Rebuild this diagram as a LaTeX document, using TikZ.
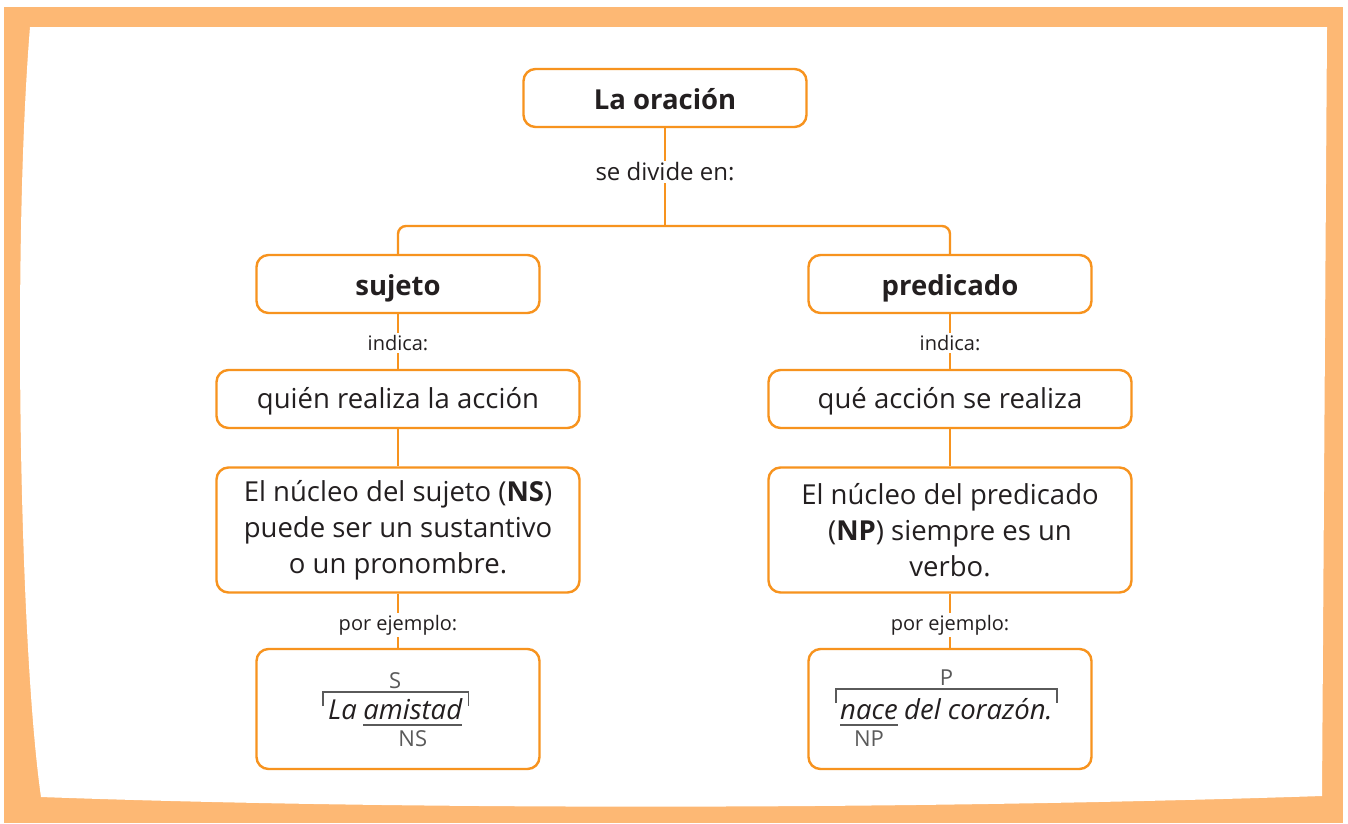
\documentclass[tikz,border=0pt]{standalone}
\usepackage{fontspec}
\setmainfont{Open Sans}
\usetikzlibrary{positioning,calc}

\definecolor{marco}{HTML}{FDB874}
\definecolor{naranja}{HTML}{F7931E}
\definecolor{texto}{HTML}{231F20}
\definecolor{gris}{HTML}{5A5A5A}

\begin{document}
\begin{tikzpicture}[x=1pt,y=-1pt,
  caja/.style={draw=naranja, line width=2.4pt, rounded corners=12pt, fill=white, text=texto,
    inner sep=0pt, align=center, minimum height=58pt, font=\fontsize{27.5}{36}\selectfont},
  angosta/.style={caja, minimum width=283pt},
  ancha/.style={caja, minimum width=363pt},
  linea/.style={text height=18pt, text depth=0pt},
  titulo/.style={angosta, text height=22pt, text depth=0pt, font=\fontsize{27.5}{36}\selectfont\bfseries},
  conector/.style={draw=naranja, line width=2.4pt},
  etiqueta/.style={fill=white, text=texto, inner sep=2pt, font=\fontsize{20}{24}\selectfont},
  ejemplo/.style={inner sep=0pt, text=texto, font=\fontsize{27.5}{36}\selectfont\itshape},
  sigla/.style={inner sep=0pt, text=gris, font=\fontsize{22}{26}\selectfont},
  raya/.style={draw=gris, line width=1.6pt}]
\useasboundingbox (0,0) rectangle (1348,823);
% marco de fondo
\fill[white] (0,0) rectangle (1348,823);
\fill[marco] (4,7) rectangle (1343,823);
\fill[white] (30,27) -- (1327,27) -- (1322,796) .. controls (900,810) and (400,810) .. (41,797)
  .. controls (20,650) and (12,250) .. (30,27) -- cycle;

% cajas
\node[titulo] (oracion) at (665,98) {La oración};
\node[titulo] (sujeto) at (398,284) {sujeto};
\node[titulo] (predicado) at (950,284) {predicado};
\node[ancha, linea] (quien) at (398,399) {quién realiza la acción};
\node[ancha, linea] (que) at (950,399) {qué acción se realiza};
\node[ancha, minimum height=125pt] (nucleoS) at (398,530) {El núcleo del sujeto (\textbf{NS})\\puede ser un sustantivo\\o un pronombre.};
\node[ancha, minimum height=125pt] (nucleoP) at (950,530) {El núcleo del predicado\\(\textbf{NP}) siempre es un\\verbo.};
\node[angosta, minimum height=120pt] (ejS) at (398,709) {};
\node[angosta, minimum height=120pt] (ejP) at (950,709) {};

% conectores
\coordinate (division) at (665,226);
\draw[conector] (oracion) -- (division);
\draw[conector, rounded corners=8pt] (sujeto.north) |- (division) -| (predicado.north);
\draw[conector] (sujeto) -- (quien);
\draw[conector] (quien) -- (nucleoS);
\draw[conector] (nucleoS) -- (ejS);
\draw[conector] (predicado) -- (que);
\draw[conector] (que) -- (nucleoP);
\draw[conector] (nucleoP) -- (ejP);

% etiquetas
\node[etiqueta, font=\fontsize{24}{28}\selectfont] (divide) at (665,172) {se divide en:};
\node[etiqueta] (indicaS) at (398,343) {indica:};
\node[etiqueta] (indicaP) at (950,343) {indica:};
\node[etiqueta] (porS) at (398,625) {por ejemplo:};
\node[etiqueta] (porP) at (950,625) {por ejemplo:};

% ejemplo del sujeto
\node[ejemplo, anchor=base west] (la) at (328,719) {La};
\node[ejemplo, anchor=base west] (amistad) at ([xshift=6pt]la.base east) {amistad};
\draw[raya] ([yshift=-6pt]amistad.base west) -- ([yshift=-6pt]amistad.base east);
\draw[raya] ($(la.base west)+(-5,-13)$) -- ++(0,-14) -| ($(amistad.base east)+(6,-13)$);
\node[sigla, anchor=base] (s) at ($(la.base west)!0.5!(amistad.base east)+(0,-31)$) {S};
\node[sigla, anchor=base] (ns) at ([yshift=-27pt]amistad.base) {NS};

% ejemplo del predicado
\node[ejemplo, anchor=base west] (nace) at (840,719) {nace};
\node[ejemplo, anchor=base west] (corazon) at ([xshift=6pt]nace.base east) {del corazón.};
\draw[raya] ([yshift=-6pt]nace.base west) -- ([yshift=-6pt]nace.base east);
\draw[raya] ($(nace.base west)+(-4,-16)$) -- ++(0,-14) -| ($(corazon.base east)+(4,-16)$);
\node[sigla, anchor=base] (p) at ($(nace.base west)!0.5!(corazon.base east)+(0,-34)$) {P};
\node[sigla, anchor=base] (np) at ([yshift=-27pt]nace.base) {NP};
\end{tikzpicture}
\end{document}
